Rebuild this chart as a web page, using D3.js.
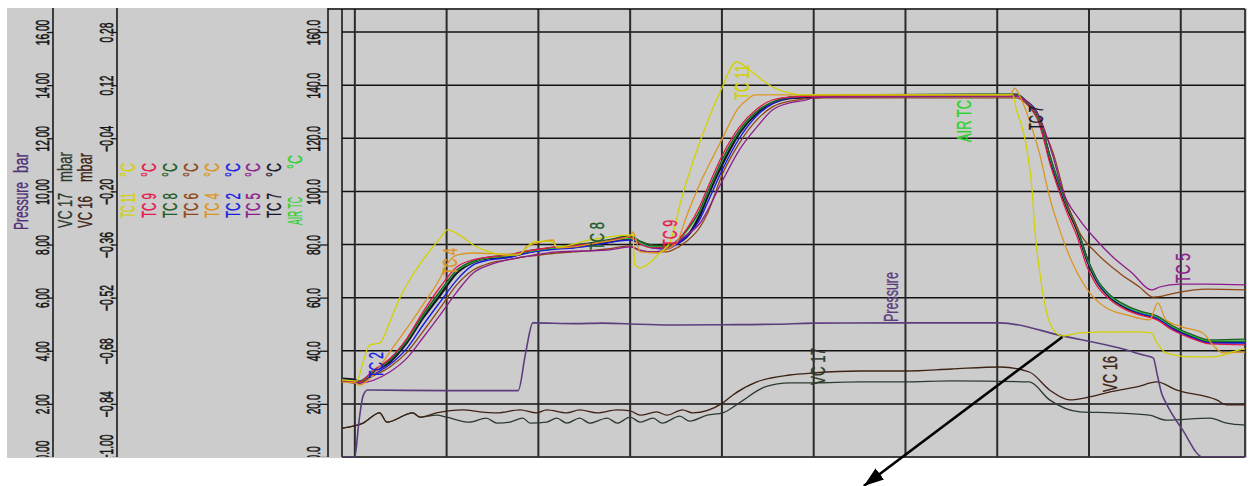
<!DOCTYPE html>
<html>
<head>
<meta charset="utf-8">
<script src="https://cdn.jsdelivr.net/npm/d3@7"></script>
<style>
  html, body { margin: 0; padding: 0; background: #ffffff; }
  svg { display: block; }
  text { font-family: "Liberation Sans", Arial, sans-serif; }
</style>
</head>
<body>
<svg id="chart" width="1249" height="486"></svg>
<script>
// ---------------- data (time in hours, temperatures in °C) ----------------
const timeGrid = [0, 1, 2, 3, 4, 5, 6, 7, 8, 9];
const tempTicks = [0, 20, 40, 60, 80, 100, 120, 140, 160];
const pressureTicks = [0, 2, 4, 6, 8, 10, 12, 14, 16];
const vcTicks = [-1.00, -0.84, -0.68, -0.52, -0.36, -0.20, -0.04, 0.12, 0.28];

const tc11 = [[-0.14,29.0],[0.02,28.6],[0.09,35.8],[0.16,42.2],[0.27,42.9],[0.38,50.8],[0.49,59.9],[0.63,68.5],[0.78,76.0],[0.93,82.4],[1.01,85.5],[1.14,83.6],[1.29,79.8],[1.47,77.2],[1.66,76.0],[1.77,76.0],[1.87,78.7],[1.94,80.9],[2.09,81.3],[2.16,80.9],[2.20,79.1],[2.56,81.7],[2.75,82.8],[3.03,83.6],[3.05,72.3],[3.11,71.2],[3.21,73.0],[3.32,76.8],[3.43,80.6],[3.57,98.6],[3.76,118.6],[3.98,137.4],[4.16,148.7],[4.30,145.7],[4.55,139.3],[4.74,137.0],[4.92,136.3],[7.17,136.3],[7.21,130.6],[7.28,123.1],[7.33,114.4],[7.38,100.5],[7.41,85.5],[7.46,70.4],[7.54,54.2],[7.63,47.1],[7.71,45.6],[7.90,46.7],[8.26,47.1],[8.52,47.1],[8.68,46.7],[8.74,43.0],[8.84,39.2],[9.10,37.7],[9.35,37.7],[9.64,40.3],[9.70,40.7]];
const tc9 = [[-0.14,29.0],[0.05,28.2],[0.20,32.6],[0.38,37.0],[0.57,44.8],[0.74,54.5],[0.93,64.0],[1.11,71.5],[1.29,74.2],[1.47,75.3],[1.66,76.0],[1.83,77.2],[2.02,78.3],[2.20,79.1],[2.38,79.5],[2.56,80.2],[2.75,81.3],[3.00,82.8],[3.11,80.2],[3.25,78.7],[3.40,78.7],[3.46,79.8],[3.62,86.0],[3.76,94.5],[3.84,101.0],[4.01,114.0],[4.19,124.2],[4.38,131.0],[4.55,134.4],[4.74,135.5],[5.10,135.9],[7.21,135.9],[7.32,133.0],[7.43,128.0],[7.50,120.5],[7.57,111.0],[7.65,102.5],[7.76,92.0],[7.87,83.0],[7.98,71.5],[8.08,64.8],[8.23,59.2],[8.41,55.3],[8.55,53.5],[8.74,51.6],[8.91,47.8],[9.13,44.5],[9.32,42.6],[9.70,42.2]];
const tc8 = [[-0.14,29.4],[0.05,28.6],[0.20,32.4],[0.38,36.6],[0.57,44.4],[0.74,53.5],[0.93,62.5],[1.11,70.4],[1.29,73.8],[1.47,75.3],[1.66,76.0],[1.83,77.2],[2.02,78.3],[2.20,79.1],[2.38,79.8],[2.56,80.6],[2.75,81.7],[3.00,83.2],[3.11,81.3],[3.25,79.8],[3.40,79.5],[3.46,80.2],[3.62,85.5],[3.76,93.0],[3.84,99.5],[4.01,112.5],[4.19,123.1],[4.38,130.2],[4.55,133.6],[4.74,135.5],[5.10,136.3],[7.21,136.6],[7.32,134.0],[7.43,130.0],[7.50,123.0],[7.57,114.0],[7.65,105.5],[7.76,95.0],[7.87,86.5],[7.98,75.0],[8.08,67.4],[8.23,61.0],[8.41,57.0],[8.55,55.0],[8.74,53.1],[8.91,49.4],[9.13,46.0],[9.32,44.1],[9.70,44.4]];
const tc6 = [[-0.14,28.6],[0.05,27.9],[0.20,30.5],[0.38,33.9],[0.57,39.5],[0.74,47.1],[0.93,56.1],[1.11,64.8],[1.29,70.4],[1.47,73.0],[1.66,74.2],[1.83,75.3],[2.02,76.0],[2.20,76.8],[2.38,77.2],[2.56,77.6],[2.75,78.3],[3.00,79.5],[3.11,77.6],[3.25,77.2],[3.40,77.2],[3.46,77.9],[3.62,81.3],[3.76,86.5],[3.84,91.5],[4.01,106.9],[4.19,118.2],[4.38,126.9],[4.55,131.8],[4.74,134.0],[5.10,135.2],[7.21,135.2],[7.32,133.0],[7.46,126.0],[7.61,114.4],[7.76,95.6],[7.90,84.3],[8.08,76.8],[8.33,69.3],[8.55,64.0],[8.70,60.2],[8.80,60.6],[8.99,62.1],[9.28,63.2],[9.70,62.9]];
const tc4 = [[-0.14,28.2],[0.00,27.9],[0.05,27.1],[0.20,30.9],[0.38,39.5],[0.57,48.6],[0.74,57.2],[0.93,67.4],[1.00,72.3],[1.11,76.0],[1.29,76.8],[1.66,76.4],[1.80,76.4],[1.87,79.1],[2.02,80.9],[2.16,81.7],[2.20,78.7],[2.38,79.1],[2.64,80.6],[3.00,83.2],[3.03,84.7],[3.11,77.2],[3.29,76.8],[3.43,78.7],[3.51,80.9],[3.62,91.1],[3.73,100.5],[3.98,118.2],[4.19,131.8],[4.27,134.4],[4.36,136.3],[7.14,136.3],[7.19,138.9],[7.25,135.5],[7.35,126.9],[7.46,114.4],[7.57,97.9],[7.68,85.5],[7.82,73.0],[8.01,61.7],[8.19,56.1],[8.41,53.5],[8.66,51.6],[8.75,58.0],[8.84,51.6],[9.02,48.9],[9.24,46.7],[9.35,42.2],[9.46,39.2],[9.70,39.5]];
const tc2 = [[-0.14,28.2],[0.05,27.9],[0.20,30.9],[0.38,34.8],[0.57,41.0],[0.74,49.5],[0.93,58.4],[1.11,66.6],[1.29,72.3],[1.47,74.2],[1.66,75.0],[1.83,76.4],[2.02,77.6],[2.20,78.3],[2.38,78.7],[2.56,79.5],[2.75,80.6],[3.00,81.7],[3.11,80.2],[3.25,78.7],[3.40,78.3],[3.46,79.1],[3.62,83.2],[3.76,89.5],[3.84,95.5],[4.01,108.5],[4.19,120.0],[4.38,128.5],[4.55,132.9],[4.74,135.2],[5.10,135.9],[7.21,136.3],[7.32,133.6],[7.43,129.8],[7.50,122.5],[7.57,113.5],[7.65,104.8],[7.76,94.5],[7.87,86.0],[7.98,74.5],[8.08,66.8],[8.23,60.4],[8.41,56.3],[8.55,54.2],[8.74,52.3],[8.91,48.2],[9.13,44.8],[9.32,42.9],[9.70,42.9]];
const tc5 = [[-0.14,28.6],[0.05,27.9],[0.38,32.0],[0.57,37.3],[0.74,44.8],[0.93,53.5],[1.11,62.1],[1.29,69.3],[1.47,72.3],[1.66,74.2],[1.83,75.3],[2.20,77.2],[2.75,77.9],[3.00,79.1],[3.11,77.9],[3.25,77.2],[3.43,78.7],[3.57,82.4],[3.76,88.0],[4.01,104.3],[4.19,115.6],[4.38,124.2],[4.55,130.6],[4.74,133.3],[4.92,134.4],[4.99,135.2],[5.20,135.5],[7.21,135.9],[7.32,134.0],[7.46,128.0],[7.61,112.9],[7.71,100.5],[7.90,89.2],[8.08,81.7],[8.26,75.3],[8.47,69.3],[8.68,62.9],[8.77,64.0],[8.99,65.1],[9.28,65.1],[9.70,64.8]];
const tc7 = [[-0.14,29.4],[0.00,29.0],[0.05,28.2],[0.20,32.0],[0.38,35.8],[0.57,43.3],[0.74,52.3],[0.93,61.0],[1.11,69.3],[1.29,73.4],[1.47,74.9],[1.66,75.3],[1.83,76.8],[2.02,77.9],[2.20,78.7],[2.38,79.1],[2.56,79.8],[2.75,80.9],[3.00,82.4],[3.11,80.6],[3.25,79.1],[3.40,79.1],[3.46,79.8],[3.65,84.3],[3.76,91.1],[3.84,97.9],[4.01,110.7],[4.19,122.0],[4.38,129.5],[4.55,133.3],[4.74,135.2],[4.92,135.5],[5.10,135.9],[6.00,136.2],[7.21,136.3],[7.32,133.6],[7.43,129.5],[7.50,122.0],[7.57,112.9],[7.65,104.3],[7.76,94.1],[7.87,85.5],[7.98,74.2],[8.08,66.6],[8.23,60.2],[8.41,56.1],[8.55,54.2],[8.74,52.3],[8.91,48.6],[9.13,45.2],[9.32,43.3],[9.70,43.3]];
const airTc = [[-0.14,29.0],[0.05,28.2],[0.20,32.2],[0.38,36.4],[0.57,44.0],[0.74,53.1],[0.93,62.1],[1.11,70.0],[1.29,73.4],[1.47,75.0],[1.66,75.7],[1.83,77.0],[2.02,78.0],[2.20,78.7],[2.38,79.5],[2.56,80.2],[2.75,81.3],[3.00,82.4],[3.11,80.6],[3.25,79.1],[3.40,79.1],[3.46,79.8],[3.62,85.0],[3.76,92.6],[3.84,99.0],[4.01,112.0],[4.19,122.7],[4.38,130.0],[4.55,133.6],[4.74,135.5],[5.10,136.0],[7.21,136.3],[7.32,133.8],[7.43,129.5],[7.50,122.5],[7.57,113.5],[7.65,105.0],[7.76,94.5],[7.87,86.0],[7.98,74.5],[8.08,67.0],[8.23,60.6],[8.41,56.5],[8.55,54.6],[8.74,52.7],[8.91,49.0],[9.13,45.6],[9.32,43.7],[9.70,43.7]];

// pressure in bar
const pressure = [[-0.14,0.0],[0.00,0.0],[0.04,1.2],[0.09,2.3],[0.14,2.52],[1.00,2.50],[1.78,2.50],[1.86,3.9],[1.94,5.05],[2.40,5.02],[2.70,5.04],[3.10,5.00],[3.50,4.97],[4.00,4.98],[4.60,5.00],[5.00,5.04],[6.00,5.05],[7.03,5.05],[7.71,4.56],[8.33,4.10],[8.59,3.84],[8.70,3.73],[8.74,3.16],[8.79,2.41],[8.84,2.03],[9.02,1.02],[9.24,0.0],[9.70,0.0]];
// vacuum channels in mbar
const vc17 = [[-0.14,-0.913],[0.09,-0.898],[0.27,-0.867],[0.35,-0.895],[0.63,-0.867],[0.71,-0.880],[0.89,-0.874],[1.00,-0.880],[1.25,-0.895],[1.43,-0.883],[1.55,-0.898],[1.69,-0.895],[1.83,-0.883],[1.91,-0.898],[2.09,-0.895],[2.20,-0.883],[2.31,-0.898],[2.45,-0.883],[2.56,-0.898],[2.75,-0.883],[2.86,-0.898],[3.00,-0.880],[3.11,-0.895],[3.25,-0.883],[3.35,-0.898],[3.54,-0.877],[3.65,-0.892],[3.84,-0.874],[4.01,-0.867],[4.19,-0.837],[4.47,-0.789],[4.74,-0.777],[4.99,-0.777],[5.50,-0.774],[6.00,-0.774],[6.50,-0.771],[7.35,-0.774],[7.57,-0.828],[7.90,-0.864],[8.26,-0.867],[8.66,-0.874],[8.84,-0.889],[9.32,-0.883],[9.50,-0.898],[9.70,-0.904]];
const vc16 = [[-0.14,-0.913],[0.09,-0.898],[0.27,-0.867],[0.35,-0.895],[0.63,-0.867],[0.71,-0.880],[0.89,-0.867],[1.18,-0.858],[1.36,-0.864],[1.55,-0.867],[1.80,-0.858],[1.98,-0.867],[2.09,-0.858],[2.31,-0.867],[2.45,-0.858],[2.64,-0.867],[2.86,-0.858],[3.00,-0.861],[3.11,-0.874],[3.29,-0.864],[3.40,-0.874],[3.57,-0.858],[3.68,-0.867],[4.01,-0.837],[4.12,-0.813],[4.38,-0.774],[4.74,-0.753],[4.99,-0.747],[5.50,-0.741],[6.00,-0.741],[6.50,-0.735],[7.03,-0.729],[7.35,-0.744],[7.57,-0.798],[7.79,-0.828],[8.01,-0.819],[8.23,-0.804],[8.52,-0.789],[8.74,-0.774],[8.95,-0.798],[9.39,-0.828],[9.50,-0.843],[9.70,-0.843]];

// legend entries (left panel), in stacking order
const legendNames = ["TC 11", "TC 9", "TC 8", "TC 6", "TC 4", "TC 2", "TC 5", "TC 7", "AIR TC"];
const legendUnit = "°C";

// in-plot labels: text, time, value, scale key
const seriesLabels = [
  ["TC 2", 0.31, 29.7, "T"], ["TC 4", 1.11, 68.5, "T"], ["TC 8", 2.72, 77.9, "T"],
  ["TC 9", 3.51, 79.1, "T"], ["TC 11", 4.30, 134.4, "T"], ["AIR TC", 6.71, 118.6, "T"],
  ["TC 7", 7.50, 123.1, "T"], ["TC 5", 9.10, 65.5, "T"], ["Pressure", 5.92, 5.08, "P"],
  ["VC 17", 5.12, -0.783, "V"], ["VC 16", 8.31, -0.804, "V"]
];

// annotation arrow: from (time, °C) to (time, °C)
const arrowFrom = [7.71, 45.2];
const arrowTo = [5.546, -10.9];

// ---------------- styles ----------------
const colors = {
  "TC 11": "#d2d200", "TC 9": "#e3184c", "TC 8": "#1e5c2a", "TC 6": "#8e4614",
  "TC 4": "#dc9520", "TC 2": "#1c1ce0", "TC 5": "#8c1c8c", "TC 7": "#14142e",
  "AIR TC": "#2ed22e", "Pressure": "#5c3e7e", "VC 17": "#2c3a2e", "VC 16": "#3e2214"
};
const labelLen = {
  "TC 2": 26, "TC 4": 27, "TC 8": 28, "TC 9": 27, "TC 11": 35, "AIR TC": 42,
  "TC 7": 24, "TC 5": 30, "Pressure": 50, "VC 17": 37, "VC 16": 36
};
const labelSize = 20;

// ---------------- scales ----------------
const x = d3.scaleLinear().domain([-0.14, 9.70]).range([342, 1245]);
const yT = d3.scaleLinear().domain([0, 160]).range([457, 32]);
const yP = d3.scaleLinear().domain([0, 16]).range([457, 32]);
const yV = d3.scaleLinear().domain([-1.00, 0.28]).range([457, 32]);
const scaleFor = { T: yT, P: yP, V: yV };

const svg = d3.select("#chart");
const defs = svg.append("defs");
defs.append("clipPath").attr("id", "plotClip")
  .append("rect").attr("x", 342).attr("y", 9).attr("width", 903).attr("height", 448);
defs.append("clipPath").attr("id", "panelClip")
  .append("rect").attr("x", 7).attr("y", 8).attr("width", 1240).attr("height", 449);
defs.append("marker").attr("id", "arrowHead")
  .attr("markerUnits", "userSpaceOnUse").attr("markerWidth", 22).attr("markerHeight", 16)
  .attr("refX", 20).attr("refY", 8).attr("orient", "auto")
  .append("path").attr("d", "M0,1 L20,8 L0,15 Z").attr("fill", "#000");

// background panel
svg.append("rect").attr("x", 7).attr("y", 8).attr("width", 1240).attr("height", 450).attr("fill", "#cccccc");

// vertical text helper (reads bottom to top)
function vText(sel, str, X, Y, o) {
  const color = o.color || "#1a1a1a";
  const t = sel.append("text")
    .attr("transform", `translate(${X},${Y}) rotate(-90)`)
    .attr("text-anchor", o.anchor || "start")
    .attr("fill", color)
    .attr("stroke", color).attr("stroke-width", 0.35)
    .style("font-size", (o.size || labelSize) + "px")
    .text(str);
  if (o.len) t.attr("textLength", o.len).attr("lengthAdjust", "spacingAndGlyphs");
  return t;
}

// ---------------- grid ----------------
const grid = svg.append("g");
grid.selectAll("line.h").data(tempTicks).join("line")
  .attr("x1", 342).attr("x2", 1245).attr("y1", d => yT(d)).attr("y2", d => yT(d))
  .attr("stroke", "#111").attr("stroke-width", 1.5);
grid.selectAll("line.v").data(timeGrid).join("line")
  .attr("x1", d => x(d)).attr("x2", d => x(d)).attr("y1", 9).attr("y2", 457)
  .attr("stroke", "#2a2a2a").attr("stroke-width", 2);
grid.append("line").attr("x1", 328).attr("x2", 1245).attr("y1", 9).attr("y2", 9)
  .attr("stroke", "#111").attr("stroke-width", 1.5);
grid.append("line").attr("x1", 342).attr("x2", 342).attr("y1", 9).attr("y2", 457)
  .attr("stroke", "#1a1a1a").attr("stroke-width", 1.6);
grid.append("line").attr("x1", 1245).attr("x2", 1245).attr("y1", 9).attr("y2", 457)
  .attr("stroke", "#1a1a1a").attr("stroke-width", 1.6);

// ---------------- axes ----------------
const panel = svg.append("g").attr("clip-path", "url(#panelClip)");
function buildAxis(scale, ticks, fmt, xPos, tickLen, gap) {
  const g = panel.append("g").attr("transform", `translate(${xPos},0)`);
  g.call(d3.axisLeft(scale).tickValues(ticks).tickFormat(fmt).tickSize(tickLen).tickSizeOuter(0));
  g.attr("font-size", null).attr("font-family", null);
  g.select(".domain").remove();
  g.selectAll(".tick line").attr("stroke", "#1a1a1a").attr("stroke-width", 1.3);
  g.selectAll(".tick text")
    .attr("x", 0).attr("dy", 0).attr("fill", "#141414")
    .attr("stroke", "#141414").attr("stroke-width", 0.6)
    .style("font-size", "19px")
    .attr("text-anchor", (d, i) => i === 0 ? "start" : "middle")
    .attr("transform", (d, i) => `translate(${-gap},${i === 0 ? 3 : 0}) rotate(-90) scale(0.54,1)`);
  g.append("line").attr("x1", 0).attr("x2", 0).attr("y1", 8).attr("y2", 457)
    .attr("stroke", "#1a1a1a").attr("stroke-width", 1.6);
}
buildAxis(yP, pressureTicks, d3.format(".2f"), 53, 5, 4);
buildAxis(yV, vcTicks, d3.format(".2f"), 117, 5, 4);
buildAxis(yT, tempTicks, d3.format(".1f"), 328, 8, 8);

// axis titles
vText(panel, "Pressure", 28, 230, { color: "#4e2f78", len: 48 });
vText(panel, "bar", 28, 173, { color: "#4e2f78", len: 20 });
vText(panel, "VC 17", 72, 228, { color: colors["VC 17"], len: 35 });
vText(panel, "mbar", 72, 182, { color: colors["VC 17"], len: 30 });
vText(panel, "VC 16", 92, 228, { color: colors["VC 16"], len: 32 });
vText(panel, "mbar", 92, 182, { color: colors["VC 16"], len: 29 });

// legend of temperature channels
legendNames.forEach((name, i) => {
  const bx = 135 + i * 20.9;
  const isAir = name === "AIR TC";
  vText(panel, name, bx, isAir ? 225 : 218, { color: colors[name], len: isAir ? 28 : 25 });
  vText(panel, legendUnit, bx, isAir ? 155 : 163, { color: colors[name], anchor: "end", len: 14 });
});

// ---------------- series ----------------
const plot = svg.append("g").attr("clip-path", "url(#plotClip)");
const lineFor = ys => d3.line().x(d => x(d[0])).y(d => ys(d[1])).curve(d3.curveMonotoneX);

const drawn = [
  ["VC 17", vc17, yV, 1.3], ["VC 16", vc16, yV, 1.3], ["Pressure", pressure, yP, 1.6],
  ["TC 7", tc7, yT, 2.6], ["TC 2", tc2, yT, 1.4], ["AIR TC", airTc, yT, 1.2],
  ["TC 8", tc8, yT, 1.3], ["TC 9", tc9, yT, 1.3], ["TC 6", tc6, yT, 1.3],
  ["TC 5", tc5, yT, 1.3], ["TC 4", tc4, yT, 1.3], ["TC 11", tc11, yT, 1.3]
];
drawn.forEach(([name, data, ys, w]) => {
  plot.append("path").datum(data)
    .attr("d", lineFor(ys))
    .attr("fill", "none")
    .attr("stroke", colors[name])
    .attr("stroke-width", w)
    .attr("stroke-linejoin", "round");
});

// series labels
seriesLabels.forEach(([txt, t, v, k]) => {
  vText(plot, txt, x(t), scaleFor[k](v), { color: colors[txt], len: labelLen[txt] });
});

// annotation arrow
svg.append("line")
  .attr("x1", x(arrowFrom[0])).attr("y1", yT(arrowFrom[1]))
  .attr("x2", x(arrowTo[0])).attr("y2", yT(arrowTo[1]))
  .attr("stroke", "#000").attr("stroke-width", 2.6)
  .attr("marker-end", "url(#arrowHead)");
</script>
</body>
</html>
